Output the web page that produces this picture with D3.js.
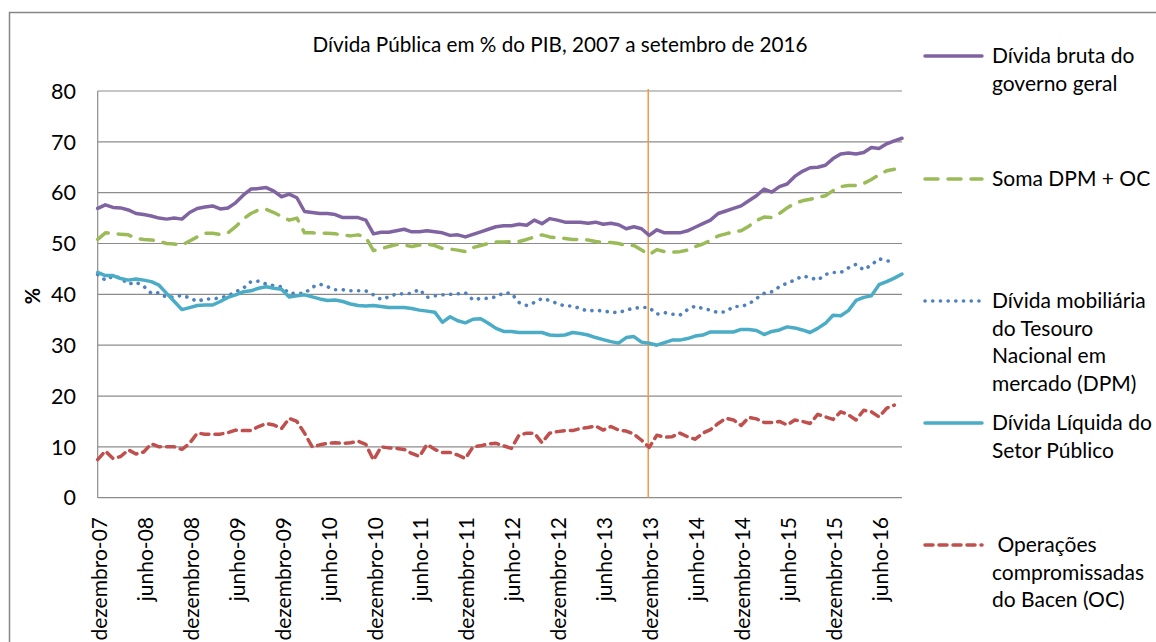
<!DOCTYPE html>
<html>
<head>
<meta charset="utf-8">
<script src="https://cdn.jsdelivr.net/npm/d3@7"></script>
<style>
  body { margin: 0; background: #fff; }
  svg { font-family: Lato, "Open Sans", sans-serif; }
</style>
</head>
<body>
<div id="chart"></div>
<script>
// monthly data, dezembro-07 (index 0) to setembro-16 (index 105)
const xTickLabels = ["dezembro-07","junho-08","dezembro-08","junho-09","dezembro-09","junho-10",
  "dezembro-10","junho-11","dezembro-11","junho-12","dezembro-12","junho-13","dezembro-13",
  "junho-14","dezembro-14","junho-15","dezembro-15","junho-16"];
const yTicks = [0,10,20,30,40,50,60,70,80];
const markIndex = 72; // dezembro-13

const dividaBruta = [56.9,57.6,57.1,57.0,56.6,55.9,55.7,55.4,55.0,54.8,55.0,54.8,56.1,56.9,57.2,57.4,56.8,57.0,58.0,59.5,
  60.7,60.8,61.0,60.3,59.2,59.7,59.0,56.3,56.1,55.9,55.9,55.7,55.1,55.1,55.1,54.6,51.9,52.2,
  52.2,52.5,52.8,52.3,52.3,52.5,52.3,52.1,51.6,51.7,51.3,51.8,52.3,52.8,53.3,53.5,53.5,53.8,53.6,54.6,53.9,54.9,
  54.6,54.2,54.2,54.2,54.0,54.2,53.8,54.0,53.7,52.9,53.3,52.9,51.6,52.7,
  52.1,52.1,52.1,52.5,53.2,53.9,54.6,55.9,56.4,56.9,57.4,58.4,59.4,60.7,60.1,61.2,61.7,63.2,64.2,64.9,
  65.0,65.4,66.7,67.6,67.8,67.6,67.9,68.9,68.7,69.6,70.2,70.7];
const somaDpmOc = [50.8,52.1,52.0,51.8,51.7,51.0,50.8,50.7,50.4,50.0,49.9,49.7,50.5,51.3,52.0,52.0,51.8,52.1,53.3,54.8,
  55.9,56.6,56.7,56.1,55.3,54.6,55.0,52.1,52.1,52.0,52.0,51.9,51.7,51.5,51.7,51.2,
  48.6,49.0,49.4,49.8,49.7,49.4,49.7,49.9,49.6,49.0,48.9,48.7,48.4,49.2,49.6,50.0,50.3,50.3,50.4,50.4,
  50.8,51.3,51.7,51.3,51.1,51.0,50.8,50.8,50.7,50.4,50.2,50.2,50.0,49.6,49.6,48.7,47.8,48.8,
  48.4,48.3,48.4,48.7,49.4,49.9,50.6,51.5,51.9,52.3,52.5,53.4,54.5,55.2,55.1,55.9,57.0,57.9,58.4,58.7,
  59.1,59.4,60.4,61.2,61.4,61.4,61.8,62.6,63.5,64.3,64.6];
const dpm = [43.9,42.8,43.6,43.2,42.0,42.4,41.6,40.2,40.3,39.4,39.5,39.8,39.3,38.6,39.1,39.1,39.3,39.7,40.5,41.2,
  42.5,42.6,42.0,41.7,41.5,40.2,40.2,40.2,41.4,42.0,41.5,40.9,40.9,40.7,40.7,40.7,
  39.9,39.0,39.5,40.1,40.1,40.2,41.0,39.4,39.7,39.9,40.0,40.1,40.3,38.9,39.2,39.2,39.5,40.3,40.2,38.4,
  37.8,38.4,39.2,38.8,38.2,37.7,37.7,37.2,36.7,36.9,36.7,36.5,36.4,36.9,37.3,37.4,37.4,36.1,
  36.4,36.1,35.9,37.0,37.7,37.2,36.9,36.4,36.6,37.6,37.6,38.1,39.2,40.2,40.5,41.5,42.2,42.8,43.6,43.3,
  42.8,43.9,44.3,44.3,45.2,45.9,44.8,45.8,47.0,46.6,46.4];
const dlsp = [44.3,43.7,43.7,43.1,42.8,43.0,42.8,42.5,41.8,40.2,38.6,37.0,37.4,37.8,37.9,37.9,38.6,39.4,39.9,40.5,
  40.7,41.2,41.5,41.2,41.0,39.5,39.7,39.9,39.5,39.1,38.8,38.9,38.6,38.1,37.8,37.7,
  37.8,37.6,37.4,37.4,37.4,37.2,36.9,36.7,36.5,34.5,35.6,34.8,34.4,35.1,35.2,34.3,33.3,32.7,32.7,32.5,
  32.5,32.5,32.5,32.0,31.9,32.0,32.5,32.3,32.0,31.5,31.1,30.7,30.4,31.5,31.7,30.6,30.4,30.0,
  30.5,31.0,31.0,31.3,31.8,32.0,32.6,32.6,32.6,32.6,33.1,33.1,32.9,32.1,32.7,33.0,33.6,33.4,33.0,32.5,
  33.3,34.3,35.9,35.8,36.8,38.8,39.4,39.7,41.9,42.5,43.2,44.0];
const operacoes = [7.5,9.2,7.7,8.1,9.4,8.6,9.0,10.6,10.0,10.0,10.0,9.5,10.7,12.7,12.5,12.5,12.5,12.8,13.3,13.2,
  13.2,14.0,14.6,14.3,13.6,15.6,15.0,12.7,10.0,10.4,10.7,10.8,10.7,10.8,11.1,10.5,
  7.4,10.0,9.8,9.7,9.5,8.7,8.1,10.5,9.5,8.9,8.9,8.4,7.7,10.0,10.2,10.6,10.7,10.2,9.7,12.3,
  12.7,12.7,10.8,12.7,13.0,13.2,13.2,13.6,13.8,14.1,13.3,14.0,13.3,13.1,12.5,11.3,9.9,12.3,
  11.9,12.0,12.7,12.0,11.5,12.7,13.4,14.6,15.6,15.3,14.2,15.8,15.5,14.8,14.8,15.0,14.3,15.3,15.0,14.6,
  16.4,15.9,15.4,16.9,16.3,15.3,17.2,16.9,15.9,17.6,18.2];

const seriesNames = [["Dívida bruta do", "governo geral"], ["Soma DPM + OC"],
  ["Dívida mobiliária", "do Tesouro", "Nacional em", "mercado (DPM)"],
  ["Dívida Líquida do", "Setor Público"], [" Operações", "compromissadas", "do Bacen (OC)"]];

const width = 1156, height = 642;
const margin = {top: 91, left: 97.7, right: 254, bottom: 144.3};
const fontSize = "21px";

const svg = d3.select("#chart").append("svg")
    .attr("width", width)
    .attr("height", height);

// outer chart border
svg.append("rect")
    .attr("x", 9.5).attr("y", 12.5)
    .attr("width", 1200).attr("height", 700)
    .attr("fill", "none")
    .attr("stroke", "#868686")
    .attr("stroke-width", 1.5);

const x = d3.scaleLinear()
    .domain([0, 105])
    .range([margin.left, width - margin.right]);
const y = d3.scaleLinear()
    .domain([0, 80])
    .range([height - margin.bottom, margin.top]);

// gridlines
svg.append("g")
    .selectAll("line")
    .data(yTicks)
    .join("line")
      .attr("x1", margin.left).attr("x2", x(105))
      .attr("y1", d => y(d)).attr("y2", d => y(d))
      .attr("stroke", "#8c8c8c")
      .attr("stroke-width", 1.2);

// y axis
svg.append("line")
    .attr("x1", margin.left).attr("x2", margin.left)
    .attr("y1", y(0)).attr("y2", y(80))
    .attr("stroke", "#8c8c8c").attr("stroke-width", 1.2);

svg.append("g")
    .selectAll("text")
    .data(yTicks)
    .join("text")
      .attr("x", 76)
      .attr("y", d => y(d))
      .attr("dy", "0.36em")
      .attr("text-anchor", "end")
      .style("font-size", "21.5px")
      .text(d => d);

svg.append("text")
    .attr("transform", "translate(33,296) rotate(-90)")
    .attr("text-anchor", "middle")
    .attr("dy", "0.35em")
    .style("font-size", "20px")
    .style("font-weight", "bold")
    .text("%");

// x labels
svg.append("g")
    .selectAll("text")
    .data(xTickLabels)
    .join("text")
      .attr("transform", (d, i) => `translate(${x(i * 6) + 1.5},517) rotate(-90)`)
      .attr("text-anchor", "end")
      .attr("dy", "0.36em")
      .style("font-size", fontSize)
      .text(d => d);

// vertical marker at dezembro-13
svg.append("line")
    .attr("x1", x(markIndex) - 1).attr("x2", x(markIndex) - 1)
    .attr("y1", 89).attr("y2", y(0))
    .attr("stroke", "#F79646")
    .attr("stroke-width", 1.5);

const styles = [
  {data: dividaBruta, color: "#8064A2", dash: null, cap: "round", w: 3.5},
  {data: somaDpmOc, color: "#9BBB59", dash: "13,10", cap: "round", w: 3.5},
  {data: dpm, color: "#4F81BD", dash: "0.1,7.6", cap: "round", w: 3.6},
  {data: dlsp, color: "#4BACC6", dash: null, cap: "round", w: 3.5},
  {data: operacoes, color: "#C0504D", dash: "8,6", cap: "round", w: 3.5}
];

const line = d3.line()
    .x((d, i) => x(i))
    .y(d => y(d));

svg.append("g")
    .selectAll("path")
    .data(styles)
    .join("path")
      .attr("d", d => line(d.data))
      .attr("fill", "none")
      .attr("stroke", d => d.color)
      .attr("stroke-width", d => d.w)
      .attr("stroke-linejoin", "round")
      .attr("stroke-linecap", d => d.cap)
      .attr("stroke-dasharray", d => d.dash);

// title
svg.append("text")
    .attr("x", 560).attr("y", 52)
    .attr("text-anchor", "middle")
    .style("font-size", "20.7px")
    .text("Dívida Pública em % do PIB, 2007 a setembro de 2016");

// legend
const legendY = [56, 179, 301, 423, 545];
const legend = svg.append("g")
    .selectAll("g")
    .data(styles)
    .join("g")
      .attr("transform", (d, i) => `translate(0,${legendY[i]})`);

legend.append("line")
    .attr("x1", 925).attr("x2", 982)
    .attr("stroke", d => d.color)
    .attr("stroke-width", d => d.w)
    .attr("stroke-linecap", d => d.cap)
    .attr("stroke-dasharray", d => d.dash);

legend.each(function(d, i) {
  const t = d3.select(this).append("text")
      .attr("x", 992).attr("y", 7)
      .style("font-size", fontSize)
      .attr("xml:space", "preserve");
  seriesNames[i].forEach((s, k) => {
    t.append("tspan")
      .attr("x", 992)
      .attr("dy", k === 0 ? 0 : 27.6)
      .text(s);
  });
});
</script>
</body>
</html>
